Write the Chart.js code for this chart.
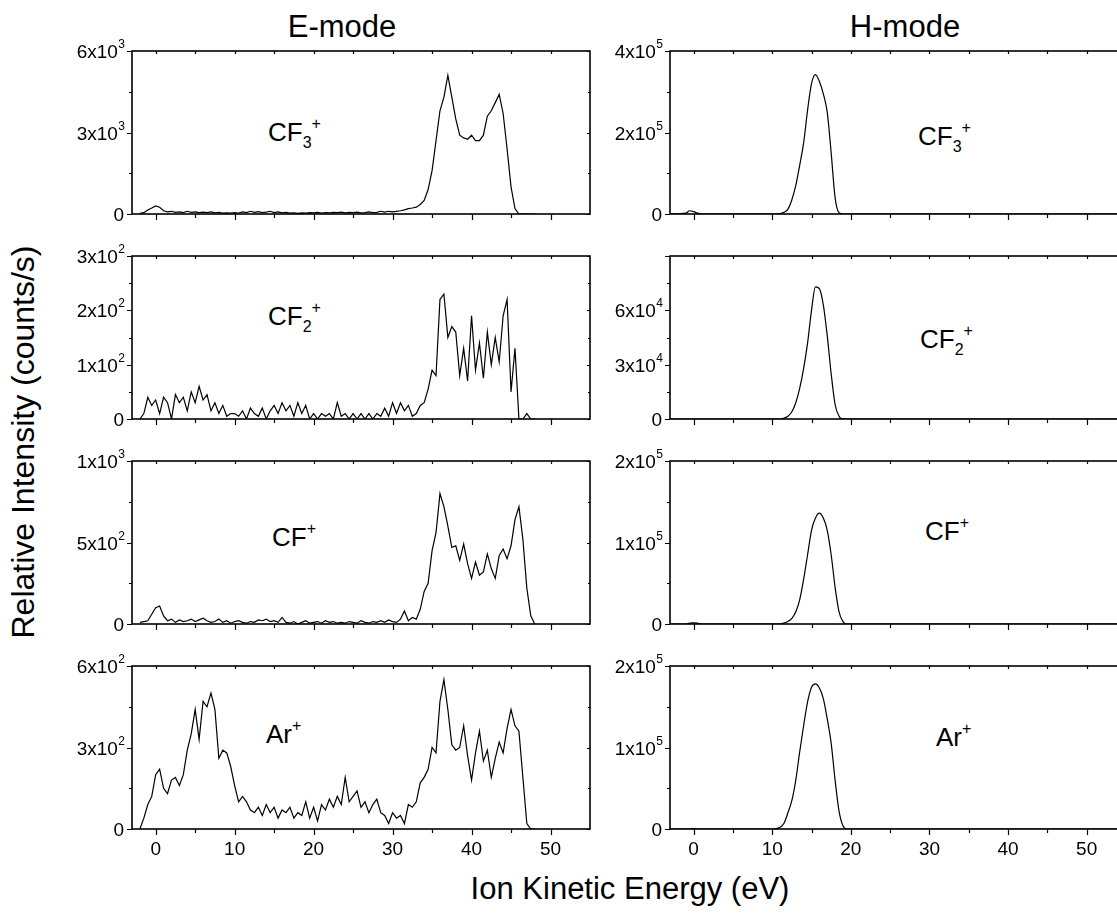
<!DOCTYPE html>
<html>
<head>
<meta charset="utf-8">
<title>Ion energy distributions, E-mode and H-mode</title>
<script src="https://cdn.jsdelivr.net/npm/chart.js@4.4.1/dist/chart.umd.min.js"></script>
<style>
  html, body { margin: 0; padding: 0; background: #fff; overflow: hidden; }
  #fig { position: relative; width: 1117px; height: 913px; overflow: hidden;
         font-family: "Liberation Sans", Arial, Helvetica, sans-serif; color: #000; }
  #fig canvas { position: absolute; }
  .ttl { position: absolute; font-size: 31px; line-height: 31px; white-space: nowrap; transform: translateX(-50%); }
  .ytl { position: absolute; font-size: 32px; line-height: 32px; white-space: nowrap;
         transform: translate(-50%, -50%) rotate(-90deg); }
  .ion { position: absolute; font-size: 26px; line-height: 26px; white-space: nowrap; }
  .ion sub, .ion sup { font-size: 16px; line-height: 0; position: relative; vertical-align: baseline; }
  .ion sub { top: 7px; }
  .ion sup { top: -12px; }
</style>
</head>
<body>
<div id="fig">
  <div class="ttl" style="left:342px; top:11px;">E-mode</div>
  <div class="ttl" style="left:905px; top:11px;">H-mode</div>
  <div class="ttl" style="left:630px; top:873px;">Ion Kinetic Energy (eV)</div>
  <div class="ytl" style="left:23px; top:442px;">Relative Intensity (counts/s)</div>

  <div class="ion" style="left:268px; top:119px;">CF<sub>3</sub><sup>+</sup></div>
  <div class="ion" style="left:268px; top:303px;">CF<sub>2</sub><sup>+</sup></div>
  <div class="ion" style="left:272px; top:524px;">CF<sup>+</sup></div>
  <div class="ion" style="left:266px; top:721px;">Ar<sup>+</sup></div>

  <div class="ion" style="left:918px; top:123px;">CF<sub>3</sub><sup>+</sup></div>
  <div class="ion" style="left:920px; top:326px;">CF<sub>2</sub><sup>+</sup></div>
  <div class="ion" style="left:925px; top:518px;">CF<sup>+</sup></div>
  <div class="ion" style="left:936px; top:724px;">Ar<sup>+</sup></div>
</div>
<script>
// --- DATA ---
// E-mode energy grid (eV)
const energyE = [
  -2, -1.5, -1, -0.5, 0, 0.5, 1, 1.5, 2, 2.5,
  3, 3.5, 4, 4.5, 5, 5.5, 6, 6.5, 7, 7.5,
  8, 8.5, 9, 9.5, 10, 10.5, 11, 11.5, 12, 12.5,
  13, 13.5, 14, 14.5, 15, 15.5, 16, 16.5, 17, 17.5,
  18, 18.5, 19, 19.5, 20, 20.5, 21, 21.5, 22, 22.5,
  23, 23.5, 24, 24.5, 25, 25.5, 26, 26.5, 27, 27.5,
  28, 28.5, 29, 29.5, 30, 30.5, 31, 31.5, 32, 32.5,
  33, 33.5, 34, 34.5, 35, 35.5, 36, 36.5, 37, 37.5,
  38, 38.5, 39, 39.5, 40, 40.5, 41, 41.5, 42, 42.5,
  43, 43.5, 44, 44.5, 45, 45.5, 46, 46.5, 47, 47.5,
  48
];

// E-mode CF3+ (x10^3 counts/s)
const eCF3 = [
  0.02, 0.05, 0.15, 0.22, 0.3, 0.25, 0.12, 0.08, 0.1, 0.06,
  0.08, 0.05, 0.1, 0.06, 0.08, 0.05, 0.07, 0.05, 0.08, 0.04,
  0.06, 0.03, 0.04, 0.03, 0.05, 0.03, 0.08, 0.05, 0.1, 0.06,
  0.09, 0.05, 0.07, 0.1, 0.05, 0.08, 0.04, 0.06, 0.03, 0.04,
  0.02, 0.04, 0.03, 0.05, 0.04, 0.06, 0.03, 0.05, 0.04, 0.06,
  0.05, 0.07, 0.04, 0.06, 0.05, 0.07, 0.04, 0.05, 0.08, 0.05,
  0.06, 0.1, 0.07, 0.1, 0.08, 0.1, 0.12, 0.15, 0.2, 0.22,
  0.25, 0.35, 0.5, 0.9, 1.6, 2.7, 3.8, 4.3, 5.1, 4.3,
  3.5, 2.9, 2.8, 2.75, 2.9, 2.7, 2.7, 2.9, 3.6, 3.8,
  4.1, 4.4, 3.7, 2.4, 1.0, 0.2, 0, 0, 0, 0,
  0
];

// E-mode CF2+ (x10^2 counts/s)
const eCF2 = [
  0, 0.1, 0.4, 0.25, 0.35, 0.1, 0.4, 0.3, 0, 0.45,
  0.3, 0.4, 0.15, 0.5, 0.3, 0.6, 0.35, 0.45, 0.15, 0.3,
  0.1, 0.25, 0.05, 0.1, 0.1, 0.05, 0.15, 0, 0.2, 0.1,
  0.05, 0.2, 0, 0.15, 0.25, 0.1, 0.3, 0.15, 0.25, 0.05,
  0.3, 0.1, 0.25, 0, 0.1, 0, 0.1, 0.05, 0.1, 0,
  0.3, 0.05, 0.1, 0, 0.1, 0, 0.1, 0, 0.1, 0,
  0.1, 0.05, 0.2, 0.05, 0.3, 0.1, 0.3, 0.15, 0.25, 0.05,
  0.1, 0.25, 0.3, 0.55, 0.9, 0.8, 2.2, 2.3, 1.5, 1.7,
  1.6, 0.8, 1.3, 0.7, 1.9, 0.9, 1.4, 0.75, 1.6, 1.0,
  1.5, 1.05, 1.9, 2.2, 0.5, 1.3, 0, 0, 0.1, 0,
  0
];

// E-mode CF+ (counts/s)
const eCF = [
  10, 15, 20, 60, 100, 110, 50, 20, 30, 10,
  25, 15, 20, 30, 15, 25, 35, 20, 10, 15,
  30, 10, 20, 5, 15, 20, 10, 5, 15, 10,
  25, 20, 30, 15, 20, 10, 40, 10, 5, 15,
  0, 10, 20, 5, 10, 15, 5, 20, 10, 15,
  5, 10, 5, 15, 10, 5, 20, 10, 5, 15,
  10, 20, 10, 25, 15, 10, 30, 80, 20, 40,
  30, 90, 200, 250, 450, 560, 800, 720, 600, 470,
  480, 390, 490, 370, 280, 380, 300, 320, 430, 340,
  280, 420, 460, 400, 480, 640, 720, 520, 220, 50,
  0
];

// E-mode Ar+ (counts/s)
const eAr = [
  0, 40, 90, 120, 200, 220, 150, 130, 180, 190,
  160, 200, 290, 350, 440, 330, 470, 450, 500, 440,
  260, 290, 280, 230, 160, 100, 120, 100, 70, 60,
  80, 50, 90, 60, 80, 40, 70, 60, 80, 40,
  60, 50, 100, 40, 80, 30, 90, 70, 110, 80,
  120, 90, 190, 100, 120, 140, 80, 100, 60, 90,
  110, 60, 50, 20, 60, 40, 50, 20, 90, 80,
  100, 170, 190, 220, 300, 280, 470, 550, 440, 310,
  290, 300, 380, 270, 180, 280, 360, 250, 290, 190,
  260, 320, 280, 370, 440, 380, 360, 190, 20, 0,
  0
];

// H-mode energy grid (eV)
const energyH = [
  -3, -1, -0.5, 0, 0.5, 1, 10, 10.5, 11, 11.5,
  12, 12.5, 13, 13.5, 14, 14.5, 15, 15.5, 16, 16.5,
  17, 17.5, 18, 18.5, 19, 19.5, 20, 55
];

// H-mode CF3+ (x10^5 counts/s)
const hCF3 = [
  0, 0.02, 0.08, 0.06, 0.02, 0, 0, 0, 0.01, 0.04,
  0.12, 0.35, 0.7, 1.2, 1.75, 2.55, 3.2, 3.42, 3.25, 2.95,
  2.5, 1.5, 0.4, 0.03, 0, 0, 0, 0
];

// H-mode CF2+ (x10^4 counts/s)
const hCF2 = [
  0, 0, 0, 0, 0, 0, 0, 0, 0, 0.05,
  0.15, 0.4, 0.9, 1.7, 2.8, 4.2, 6.0, 7.3, 7.2, 6.3,
  4.6, 2.5, 0.8, 0.15, 0, 0, 0, 0
];

// H-mode CF+ (x10^5 counts/s)
const hCF = [
  0, 0, 0.01, 0.015, 0.01, 0, 0, 0, 0, 0.01,
  0.03, 0.07, 0.15, 0.3, 0.55, 0.85, 1.15, 1.3, 1.36, 1.3,
  1.15, 0.85, 0.45, 0.15, 0.03, 0, 0, 0
];

// H-mode Ar+ (x10^5 counts/s)
const hAr = [
  0, 0, 0, 0.005, 0, 0, 0, 0.005, 0.02, 0.07,
  0.2, 0.35, 0.6, 0.95, 1.27, 1.56, 1.74, 1.78, 1.73, 1.6,
  1.35, 1.05, 0.6, 0.22, 0.04, 0, 0, 0
];

// Axis ticks
const xRange = [-3, 55];
const xTicks = [0, 5, 10, 15, 20, 25, 30, 35, 40, 45, 50];
const xLabels = ['0', '10', '20', '30', '40', '50'];

// --- LAYOUT ---
const ROW_TOP = [51, 256, 461, 666];
const PLOT_H = 163;
const PAD_T = 20, PAD_B = 40;
const COL = [
  { left: 0, width: 600, padL: 132, padR: 10 },
  { left: 596, width: 540, padL: 74, padR: 10 }
];
const TICK_FONT = '19px "Liberation Sans", Arial, sans-serif';
const SUP_FONT = '12px "Liberation Sans", Arial, sans-serif';

const panels = [
  { col: 0, row: 0, x: energyE, y: eCF3, yMax: 6,    major: [0, 3, 6],        labels: ['0', '3x10^3', '6x10^3'], minor: [1.5, 4.5] },
  { col: 0, row: 1, x: energyE, y: eCF2, yMax: 3,    major: [0, 1, 2, 3],     labels: ['0', '1x10^2', '2x10^2', '3x10^2'], minor: [0.5, 1.5, 2.5] },
  { col: 0, row: 2, x: energyE, y: eCF,  yMax: 1000, major: [0, 500, 1000],   labels: ['0', '5x10^2', '1x10^3'], minor: [250, 750] },
  { col: 0, row: 3, x: energyE, y: eAr,  yMax: 600,  major: [0, 300, 600],    labels: ['0', '3x10^2', '6x10^2'], minor: [150, 450] },
  { col: 1, row: 0, x: energyH, y: hCF3, yMax: 4,    major: [0, 2, 4],        labels: ['0', '2x10^5', '4x10^5'], minor: [1, 3], smooth: true },
  { col: 1, row: 1, x: energyH, y: hCF2, yMax: 9,    major: [0, 3, 6, 9],     labels: ['0', '3x10^4', '6x10^4', ''], minor: [1.5, 4.5, 7.5], smooth: true },
  { col: 1, row: 2, x: energyH, y: hCF,  yMax: 2,    major: [0, 1, 2],        labels: ['0', '1x10^5', '2x10^5'], minor: [0.5, 1.5], smooth: true },
  { col: 1, row: 3, x: energyH, y: hAr,  yMax: 2,    major: [0, 1, 2],        labels: ['0', '1x10^5', '2x10^5'], minor: [0.5, 1.5], smooth: true }
];

// --- FRAME / TICKS PLUGIN ---
const frame = {
  id: 'frame',
  afterDraw(chart) {
    const p = chart.config.options.plugins.frame.panel;
    const { ctx, chartArea: a, scales: { x, y } } = chart;
    ctx.save();
    ctx.strokeStyle = '#000';
    ctx.fillStyle = '#000';

    // box
    ctx.lineWidth = 1.6;
    ctx.strokeRect(a.left, a.top, a.right - a.left, a.bottom - a.top);

    // x ticks (outward below, short inward on top)
    ctx.lineWidth = 1.2;
    ctx.beginPath();
    xTicks.forEach(v => {
      const px = Math.round(x.getPixelForValue(v)) + 0.5;
      const len = v % 10 === 0 ? 6 : 4;
      ctx.moveTo(px, a.bottom); ctx.lineTo(px, a.bottom + len);
      ctx.moveTo(px, a.top); ctx.lineTo(px, a.top + 3);
    });
    // y ticks (outward left, short inward on right)
    p.major.forEach(v => {
      const py = Math.round(y.getPixelForValue(v)) + 0.5;
      ctx.moveTo(a.left, py); ctx.lineTo(a.left - 5, py);
      ctx.moveTo(a.right, py); ctx.lineTo(a.right - 3, py);
    });
    p.minor.forEach(v => {
      const py = Math.round(y.getPixelForValue(v)) + 0.5;
      ctx.moveTo(a.left, py); ctx.lineTo(a.left - 3, py);
      ctx.moveTo(a.right, py); ctx.lineTo(a.right - 2, py);
    });
    ctx.stroke();

    // y labels with superscript exponent
    ctx.textBaseline = 'alphabetic';
    ctx.textAlign = 'right';
    p.major.forEach((v, i) => {
      const lab = p.labels[i];
      if (!lab) return;
      const py = y.getPixelForValue(v);
      const [mant, exp] = lab.split('^');
      if (exp) {
        const right = a.left - 7;
        ctx.font = SUP_FONT;
        ctx.fillText(exp, right, py - 3);
        const ew = ctx.measureText(exp).width;
        ctx.font = TICK_FONT;
        ctx.fillText(mant, right - ew - 0.5, py + 7);
      } else {
        ctx.font = TICK_FONT;
        ctx.fillText(mant, a.left - 8, py + 7);
      }
    });

    // x labels on bottom row only
    if (p.row === 3) {
      ctx.font = TICK_FONT;
      ctx.textAlign = 'center';
      xLabels.forEach(t => {
        ctx.fillText(t, x.getPixelForValue(Number(t)), a.bottom + 26);
      });
    }
    ctx.restore();
  }
};

// --- BUILD CHARTS ---
const fig = document.getElementById('fig');
panels.forEach(p => {
  const c = COL[p.col];
  const cv = document.createElement('canvas');
  const h = PAD_T + PLOT_H + PAD_B;
  cv.width = c.width;
  cv.height = h;
  cv.style.left = c.left + 'px';
  cv.style.top = (ROW_TOP[p.row] - PAD_T) + 'px';
  cv.style.width = c.width + 'px';
  cv.style.height = h + 'px';
  fig.appendChild(cv);

  new Chart(cv, {
    type: 'line',
    data: {
      datasets: [{
        data: p.x.map((e, i) => ({ x: e, y: p.y[i] })),
        borderColor: '#000',
        borderWidth: 1.2,
        pointRadius: 0,
        fill: false,
        tension: 0,
        cubicInterpolationMode: p.smooth ? 'monotone' : 'default'
      }]
    },
    options: {
      responsive: false,
      animation: false,
      layout: { padding: { left: c.padL, right: c.padR, top: PAD_T, bottom: PAD_B } },
      scales: {
        x: { type: 'linear', min: xRange[0], max: xRange[1], display: false },
        y: { min: 0, max: p.yMax, display: false }
      },
      plugins: {
        legend: { display: false },
        tooltip: { enabled: false },
        frame: { panel: p }
      }
    },
    plugins: [frame]
  });
});
</script>
</body>
</html>
